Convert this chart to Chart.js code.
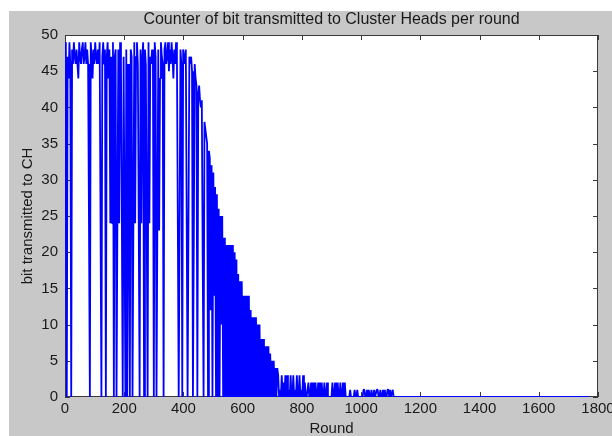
<!DOCTYPE html>
<html>
<head>
<meta charset="utf-8">
<script src="https://cdn.jsdelivr.net/npm/chart.js@4.4.1/dist/chart.umd.min.js"></script>
<style>
  html, body { margin: 0; padding: 0; background: #fff; }
</style>
</head>
<body>
<canvas id="bitChart" width="612" height="436"></canvas>
<script>
var chartTitle = "Counter of bit transmitted to Cluster Heads per round";
var xLabel = "Round";
var yLabel = "bit transmitted to CH";

var xTicks = [0, 200, 400, 600, 800, 1000, 1200, 1400, 1600, 1800];
var yTicks = [0, 5, 10, 15, 20, 25, 30, 35, 40, 45, 50];

// one value every 3 rounds (round 0 .. 1110)
var roundStep = 3;
var bits = [
  49,24,0,47,44,49,46,0,48,46,
  49,47,46,48,46,44,49,47,46,48,
  49,46,47,49,46,48,46,24,0,49,
  47,44,48,46,49,47,46,48,46,49,
  24,0,47,49,46,48,0,47,49,44,
  48,24,47,24,49,0,47,48,0,24,
  48,24,49,46,24,0,47,24,0,48,
  0,46,24,0,48,47,0,24,49,24,
  47,49,46,24,0,48,24,47,49,0,
  48,46,24,0,49,24,47,46,48,46,
  0,49,47,0,24,48,23,44,49,47,
  46,0,48,49,46,47,49,45,48,46,
  49,47,44,48,46,49,47,24,0,24,
  48,46,0,48,47,46,48,24,0,24,
  47,46,47,45,0,22,46,44,43,0,
  42,43,41,40,41,19,0,38,37,36,
  35,0,34,33,12,32,0,31,14,29,
  0,28,0,26,0,25,10,25,0,22,
  0,21,0,21,0,21,0,21,0,21,
  0,20,0,19,0,17,0,16,0,16,
  0,14,0,14,0,14,0,14,0,12,
  0,11,0,11,0,11,0,10,0,10,
  0,8,0,8,0,7,0,7,0,7,
  0,6,0,5,0,5,0,4,0,4,
  3,0,1,0,3,0,2,0,3,0,
  3,0,1,0,3,0,0,3,0,1,
  0,3,0,0,3,0,1,0,3,0,
  2,0,0,1,2,0,0,2,0,0,
  2,0,2,0,0,2,0,2,0,2,
  0,0,2,0,0,2,0,0,0,0,
  0,2,0,0,2,0,0,2,0,0,
  2,0,0,2,0,2,0,0,0,0,
  0,1,0,0,0,0,1,0,0,1,
  0,0,0,0,0,0,1,1,0,0,
  1,0,1,0,0,1,0,0,1,0,
  0,1,1,0,0,1,0,0,1,0,
  1,0,0,1,1,0,1,0,0,1,
  0
];
// after that the counter stays at zero until the last round
var lastRound = 1770;
var lastBits = 0;

function buildPoints() {
    var pts = [];
    for (var i = 0; i < bits.length; i++) {
        pts.push({ x: i * roundStep, y: bits[i] });
    }
    pts.push({ x: lastRound, y: lastBits });
    return pts;
}

var fontFamily = "'Liberation Sans', Arial, sans-serif";
var textColor = '#1a1a1a';

var matlabFrame = {
    id: 'matlabFrame',
    beforeDraw: function(chart) {
        var ctx = chart.ctx;
        var a = chart.chartArea;
        ctx.save();
        ctx.fillStyle = '#ffffff';
        ctx.fillRect(0, 0, chart.width, chart.height);
        ctx.fillStyle = '#c8c8c8';
        ctx.fillRect(9, 11, chart.width - 9, chart.height - 11);
        ctx.fillStyle = '#ffffff';
        ctx.fillRect(a.left, a.top, a.right - a.left, a.bottom - a.top);
        ctx.restore();
    },
    beforeDatasetsDraw: function(chart) {
        var ctx = chart.ctx;
        var a = chart.chartArea;
        var xs = chart.scales.x;
        var ys = chart.scales.y;
        ctx.save();
        ctx.strokeStyle = '#3a3a3a';
        ctx.lineWidth = 1;
        ctx.strokeRect(a.left + 0.5, a.top + 0.5, a.right - a.left - 1, a.bottom - a.top - 1);
        ctx.beginPath();
        for (var i = 0; i < xTicks.length; i++) {
            var px = Math.round(xs.getPixelForValue(xTicks[i])) + 0.5;
            ctx.moveTo(px, a.bottom);
            ctx.lineTo(px, a.bottom - 5);
            ctx.moveTo(px, a.top);
            ctx.lineTo(px, a.top + 5);
        }
        for (var j = 0; j < yTicks.length; j++) {
            var py = Math.round(ys.getPixelForValue(yTicks[j])) + 0.5;
            ctx.moveTo(a.left, py);
            ctx.lineTo(a.left + 5, py);
            ctx.moveTo(a.right, py);
            ctx.lineTo(a.right - 5, py);
        }
        ctx.stroke();
        ctx.restore();
    },
    afterDraw: function(chart) {
        var ctx = chart.ctx;
        var a = chart.chartArea;
        ctx.save();
        ctx.fillStyle = textColor;
        ctx.font = '16px ' + fontFamily;
        ctx.textAlign = 'center';
        ctx.textBaseline = 'middle';
        ctx.fillText(chartTitle, (a.left + a.right) / 2, 20);
        ctx.restore();
    }
};

function plainNumber(value) {
    return String(value);
}

window.onload = drawChart;

function drawChart() {
    var ctx = document.getElementById('bitChart').getContext('2d');

    var myChart = new Chart(ctx, {
        type: 'line',
        data: {
            datasets: [{
                label: yLabel,
                data: buildPoints(),
                borderColor: '#0000ff',
                borderWidth: 1.8,
                borderJoinStyle: 'bevel',
                pointRadius: 0,
                tension: 0,
                fill: false
            }]
        },
        options: {
            responsive: false,
            animation: false,
            layout: { padding: { left: 0, top: 35, right: 14, bottom: 0 } },
            plugins: {
                legend: { display: false },
                tooltip: { enabled: false }
            },
            scales: {
                x: {
                    type: 'linear',
                    min: 0,
                    max: 1800,
                    afterBuildTicks: function(scale) {
                        scale.ticks = xTicks.map(function(v) { return { value: v }; });
                    },
                    afterFit: function(scale) {
                        scale.height = 39;
                        scale.paddingLeft = 0;
                        scale.paddingRight = 0;
                    },
                    grid: { display: false, drawTicks: false },
                    border: { display: false },
                    ticks: {
                        padding: 3,
                        maxRotation: 0,
                        autoSkip: false,
                        color: textColor,
                        font: { family: fontFamily, size: 15 },
                        callback: plainNumber
                    },
                    title: {
                        display: true,
                        text: xLabel,
                        color: textColor,
                        font: { family: fontFamily, size: 15, lineHeight: 1 },
                        padding: { top: 0, bottom: 0 }
                    }
                },
                y: {
                    type: 'linear',
                    min: 0,
                    max: 50,
                    afterBuildTicks: function(scale) {
                        scale.ticks = yTicks.map(function(v) { return { value: v }; });
                    },
                    afterFit: function(scale) {
                        scale.width = 65;
                        scale.paddingTop = 0;
                        scale.paddingBottom = 0;
                    },
                    grid: { display: false, drawTicks: false },
                    border: { display: false },
                    ticks: {
                        padding: 7,
                        autoSkip: false,
                        color: textColor,
                        font: { family: fontFamily, size: 15 },
                        callback: plainNumber
                    },
                    title: {
                        display: true,
                        text: yLabel,
                        color: textColor,
                        font: { family: fontFamily, size: 15, lineHeight: 1 },
                        padding: { top: 20, bottom: 0 }
                    }
                }
            }
        },
        plugins: [matlabFrame]
    });
}
</script>
</body>
</html>
